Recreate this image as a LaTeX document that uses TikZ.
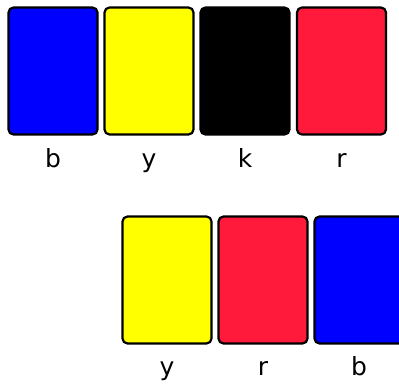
\documentclass[tikz,border=0pt]{standalone}
\usepackage{fontspec}
\setmainfont{DejaVu Sans}
\definecolor{cblue}{RGB}{0,0,255}
\definecolor{cyellow}{RGB}{255,255,0}
\definecolor{cblack}{RGB}{0,0,0}
\definecolor{cred}{RGB}{255,26,60}
\begin{document}
\begin{tikzpicture}[x=1pt,y=1pt,
  card/.style={draw=black,line width=2.2pt,rounded corners=5pt,minimum width=89pt,minimum height=127pt,inner sep=0pt},
  lbl/.style={anchor=base,inner sep=0pt,font=\fontsize{25}{30}\selectfont}]
\useasboundingbox (0,0) rectangle (399,383);
\clip (0,0) rectangle (399,383);
% top row
\node[card,fill=cblue] (t1) at (53,312) {};
\node[card,fill=cyellow] (t2) at (149,312) {};
\node[card,fill=cblack] (t3) at (245,312) {};
\node[card,fill=cred] (t4) at (341.5,312) {};
\node[lbl] (lt1) at (53,215.5) {b};
\node[lbl] (lt2) at (149,215.5) {y};
\node[lbl] (lt3) at (245,215.5) {k};
\node[lbl] (lt4) at (341.5,215.5) {r};
% bottom row
\node[card,fill=cyellow] (b1) at (167,103) {};
\node[card,fill=cred] (b2) at (263,103) {};
\node[card,fill=cblue] (b3) at (359,103) {};
\node[lbl] (lb1) at (167,8) {y};
\node[lbl] (lb2) at (263,8) {r};
\node[lbl] (lb3) at (359,8) {b};
\end{tikzpicture}
\end{document}
